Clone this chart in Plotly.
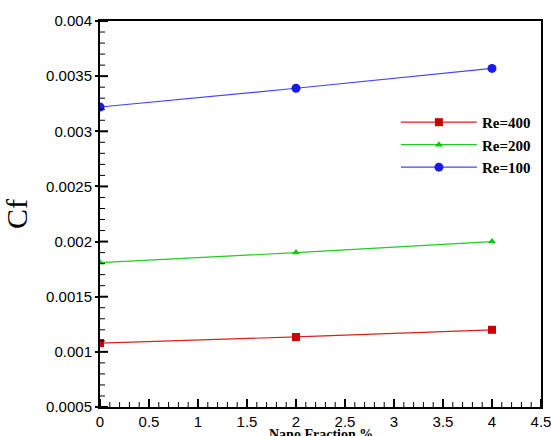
import numpy as np
import plotly.graph_objects as go

# Nanofluid volume fraction (%) and skin-friction coefficient per Reynolds number
nano_fraction = [0, 2, 4]
cf_re400 = [0.00108, 0.001135, 0.00120]
cf_re200 = [0.00181, 0.00190, 0.00200]
cf_re100 = [0.00322, 0.00339, 0.00357]

x_range = [0, 4.5]
y_range = [0.0005, 0.004]
x_ticks = [0, 0.5, 1, 1.5, 2, 2.5, 3, 3.5, 4, 4.5]
x_tick_text = ["0", "0.5", "1", "1.5", "2", "2.5", "3", "3.5", "4", "4.5"]
y_ticks = [0.0005, 0.001, 0.0015, 0.002, 0.0025, 0.003, 0.0035, 0.004]
y_tick_text = ["0.0005", "0.001", "0.0015", "0.002", "0.0025", "0.003", "0.0035", "0.004"]

# minor tick positions: 5 subdivisions between major ticks
x_minor = [v for v in np.round(np.arange(x_range[0], x_range[1] + 1e-9, 0.1), 6) if v not in x_ticks]
y_minor = [v for v in np.round(np.arange(y_range[0], y_range[1] + 1e-12, 0.0001), 6) if v not in y_ticks]

W, H = 551, 436
M = dict(l=100, r=10, t=21, b=29)
plot_w = W - M["l"] - M["r"]
plot_h = H - M["t"] - M["b"]

fig = go.Figure()
fig.add_trace(go.Scatter(
    x=nano_fraction, y=cf_re400, name="Re=400", mode="lines+markers",
    line=dict(color="#d82020", width=1.2),
    marker=dict(symbol="square", size=8, color="#cc0000"),
))
fig.add_trace(go.Scatter(
    x=nano_fraction, y=cf_re200, name="Re=200", mode="lines+markers",
    line=dict(color="#22cc22", width=1.2),
    marker=dict(symbol="triangle-up", size=7, color="#00cc00"),
))
fig.add_trace(go.Scatter(
    x=nano_fraction, y=cf_re100, name="Re=100", mode="lines+markers",
    line=dict(color="#4444ff", width=1.2),
    marker=dict(symbol="circle", size=9, color="#1a1aee"),
))

# inward-pointing tick strokes along the bottom and left edges of the frame
tick_shapes = []
for vals, length, width in ((x_ticks, 8, 2), (x_minor, 5, 1)):
    for v in vals:
        tick_shapes.append(dict(
            type="line", xref="x", yref="paper", x0=v, x1=v, y0=0, y1=length / plot_h,
            line=dict(color="black", width=width), layer="above",
        ))
for vals, length, width in ((y_ticks, 8, 2), (y_minor, 5, 1)):
    for v in vals:
        tick_shapes.append(dict(
            type="line", xref="paper", yref="y", x0=0, x1=length / plot_w, y0=v, y1=v,
            line=dict(color="black", width=width), layer="above",
        ))

tick_font = dict(family="Liberation Sans, Arial, sans-serif", size=15, color="black")

fig.update_layout(
    xaxis=dict(
        range=x_range, tickmode="array", tickvals=x_ticks, ticktext=x_tick_text,
        showline=True, linecolor="black", linewidth=2, mirror=True,
        ticks="", showgrid=False, zeroline=False, automargin=False,
        tickfont=tick_font, ticklabeloverflow="allow",
    ),
    yaxis=dict(
        range=y_range, tickmode="array", tickvals=y_ticks, ticktext=y_tick_text,
        showline=True, linecolor="black", linewidth=2, mirror=True,
        ticks="outside", ticklen=3, tickwidth=2, tickcolor="black",
        showgrid=False, zeroline=False, automargin=False,
        tickfont=tick_font,
        title=dict(text="Cf", standoff=16,
                   font=dict(family="Liberation Serif, Times New Roman, serif", size=30, color="black")),
    ),
    shapes=tick_shapes,
    annotations=[dict(
        text="<b>Nano Fraction %</b>", xref="paper", yref="paper", x=0.5, y=0,
        xanchor="center", yanchor="top", yshift=-18, showarrow=False,
        font=dict(family="Liberation Serif, Times New Roman, serif", size=14, color="black"),
    )],
)

fig.update_layout(
    width=W, height=H,
    margin=dict(**M, autoexpand=False),
    paper_bgcolor="white", plot_bgcolor="white",
    showlegend=True,
    legend=dict(
        x=0.671, y=0.78, xanchor="left", yanchor="top",
        bgcolor="rgba(0,0,0,0)", borderwidth=0,
        itemwidth=76, tracegroupgap=0,
        font=dict(family="Liberation Serif, Times New Roman, serif", size=15,
                  color="black", weight="bold"),
    ),
)

fig.write_html("out.html")
